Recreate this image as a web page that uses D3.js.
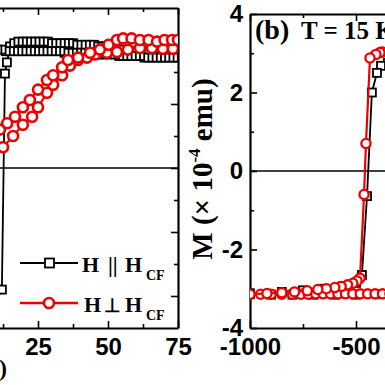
<!DOCTYPE html>
<html><head><meta charset="utf-8">
<script src="https://cdn.jsdelivr.net/npm/d3@7"></script>
<style>html,body{margin:0;padding:0;background:#fff;overflow:hidden}svg{display:block}</style>
</head><body>
<script>
// ---------- Panel (a) data : H (Oe) vs normalised M ----------
const aXMajor = [-75, -50, -25, 0, 25, 50, 75];
const aXMinor = [-62.5, -37.5, -12.5, 12.5, 37.5, 62.5];
const aYMajor = [-0.8, -0.4, 0, 0.4, 0.8];
const aYMinor = [-0.6, -0.2, 0.2, 0.6];

const aBlackAsc = [[-75,-0.69],[-60,-0.70],[-45,-0.71],[-30,-0.72],[-15,-0.73],[0,-0.74],[6,-0.75],[10,-0.76],[12.1,-0.76],[13.2,0.59],[13.9,0.66],[15,0.76],[16.5,0.78],[18,0.79],[19.5,0.79],[21,0.79],[22.5,0.79],[24,0.79],[25.5,0.79],[27,0.79],[28.5,0.79],[30,0.78],[31.5,0.78],[33,0.78],[34.5,0.78],[36,0.78],[37.5,0.78],[39,0.77],[40.5,0.77],[42,0.77],[43.5,0.77],[45,0.77],[46.5,0.76],[48,0.76],[49.5,0.76],[51,0.75],[52.5,0.75],[54,0.74],[55.5,0.74],[57,0.73],[58.5,0.73],[60,0.72],[61.5,0.72],[63,0.72],[64.5,0.71],[66,0.71],[67.5,0.71],[69,0.71],[70.5,0.71],[72,0.70],[73.5,0.70],[75,0.70]];
const aBlackDesc = [[75,0.69],[73.5,0.69],[72,0.69],[70.5,0.69],[69,0.69],[67.5,0.69],[66,0.69],[64.5,0.69],[63,0.69],[61.5,0.70],[60,0.70],[58.5,0.70],[57,0.70],[55.5,0.70],[54,0.70],[52.5,0.71],[51,0.71],[49.5,0.71],[48,0.71],[46.5,0.71],[45,0.71],[43.5,0.72],[42,0.72],[40.5,0.72],[39,0.72],[37.5,0.72],[36,0.72],[34.5,0.72],[33,0.73],[31.5,0.73],[30,0.73],[28.5,0.73],[27,0.73],[25.5,0.73],[24,0.73],[22.5,0.73],[21,0.73],[19.5,0.73],[18,0.73],[16.5,0.73],[15,0.73],[13.5,0.73],[12,0.74],[10.5,0.74],[9,0.74],[6,0.75],[0,0.76],[-10,0.77],[-13,0.5],[-14,-0.7],[-30,-0.75],[-75,-0.79]];
const aRedUp = [[0,0.05],[3,0.11],[6,0.16],[9,0.20],[11.4,0.24],[14,0.28],[16.8,0.32],[19.6,0.38],[22.1,0.425],[25,0.49],[28.2,0.55],[30.4,0.58],[33.6,0.63],[35.7,0.675],[39.3,0.69],[43.6,0.72],[47.1,0.74],[50.2,0.77],[53.2,0.80],[55.4,0.81],[58.4,0.81],[61.4,0.80],[64.5,0.80],[67.5,0.79],[70.2,0.80],[72.9,0.80],[75,0.80]];
const aRedLow = [[0,-0.06],[3,0.0],[6,0.04],[9,0.09],[12.5,0.13],[16.1,0.20],[19.6,0.27],[22.9,0.32],[25,0.38],[28.2,0.47],[30.4,0.52],[33.6,0.58],[36.4,0.64],[39.3,0.675],[42.5,0.69],[45.4,0.71],[49.6,0.72],[53.2,0.725],[57.1,0.74],[61.4,0.75],[65.7,0.75],[69.6,0.745],[73.2,0.745]];

// ---------- Panel (b) data : H (Oe) vs M (x10^-4 emu), T = 15 K ----------
const bXMajor = [-1000, -500, 0, 500, 1000];
const bXMinor = [-750, -250, 250, 750];
const bYMajor = [-4, -2, 0, 2, 4];
const bYMinor = [-3, -1, 1, 3];

const bBlackDesc = [[-300,2.80],[-350,2.76],[-382,2.68],[-401,2.50],[-425,2.00],[-448,-0.64],[-472,-2.65],[-500,-2.85],[-560,-2.93],[-650,-3.00],[-750,-3.04],[-850,-3.08],[-1000,-3.12]];
const bBlackAsc = [[-1000,-3.14],[-900,-3.15],[-800,-3.15],[-700,-3.15],[-600,-3.15],[-500,-3.15],[-400,-3.14],[-300,-3.14]];
const bRedDesc = [[-300,3.05],[-340,3.04],[-377,3.03],[-387,3.02],[-406,2.97],[-434,2.88],[-453,0.70],[-462,-0.60],[-481,-2.73],[-495,-2.80],[-515,-2.86],[-540,-2.90],[-570,-2.94],[-600,-2.97],[-640,-3.00],[-680,-3.02],[-730,-3.05],[-790,-3.08],[-850,-3.10],[-920,-3.12],[-1000,-3.14]];
const bRedAsc = [[-1000,-3.14],[-950,-3.14],[-900,-3.14],[-850,-3.14],[-800,-3.14],[-760,-3.14],[-725,-3.14],[-690,-3.13],[-655,-3.13],[-620,-3.13],[-585,-3.13],[-550,-3.13],[-515,-3.13],[-480,-3.13],[-445,-3.13],[-410,-3.13],[-375,-3.13],[-340,-3.13],[-305,-3.13]];

const legendLabels = [["H", "||", "H", "CF"], ["H", "\u22A5", "H", "CF"]];
const titleB = ["(b)", "T = 15 K"];
const xLabel = "H (Oe)";

// ---------- drawing ----------
const W = 385, H = 385;
const svg = d3.select("body").append("svg").attr("width", W).attr("height", H);
svg.append("rect").attr("width", W).attr("height", H).attr("fill", "#fff");
const RED = "#ec0000";
const SANS = "'Liberation Sans', Arial, sans-serif";
const SERIF = "'Liberation Serif', 'Times New Roman', serif";

const xA = d3.scaleLinear().domain([-75, 75]).range([-242, 178]);
const yA = d3.scaleLinear().domain([-1, 1]).range([328, 8]);
const xB = d3.scaleLinear().domain([-1000, 1000]).range([250, 674]);
const yB = d3.scaleLinear().domain([-4, 4]).range([328, 14]);

const defs = svg.append("defs");
defs.append("clipPath").attr("id", "clipA").append("rect")
  .attr("x", xA(-75)).attr("y", yA(1)).attr("width", xA(75) - xA(-75)).attr("height", yA(-1) - yA(1));
defs.append("clipPath").attr("id", "clipB").append("rect")
  .attr("x", xB(-1000)).attr("y", yB(4)).attr("width", xB(1000) - xB(-1000)).attr("height", yB(-4) - yB(4));

function styleAxis(g) {
  g.select(".domain").attr("stroke", "#000").attr("stroke-width", 2.2);
  g.selectAll(".tick line").attr("stroke", "#000").attr("stroke-width", 1.6);
  g.selectAll(".tick text").attr("fill", "#000").attr("font-family", SANS)
    .attr("font-weight", "bold").attr("font-size", 24);
}
function drawAxes(xs, ys, xMaj, xMin, yMaj, yMin, yLeftLabels) {
  const [x0, x1] = xs.range(); const [yb, yt] = ys.range();
  const fmt = d => String(d);
  const visible = v => xs(v) > -20;
  let g = svg.append("g").attr("transform", `translate(0,${yb})`)
    .call(d3.axisBottom(xs).tickValues(xMaj).tickSize(-7).tickSizeOuter(0).tickPadding(10)
      .tickFormat(d => visible(d) ? fmt(d) : ""));
  styleAxis(g);
  g = svg.append("g").attr("transform", `translate(0,${yb})`)
    .call(d3.axisBottom(xs).tickValues(xMin).tickSize(-4).tickSizeOuter(0).tickFormat(""));
  g.select(".domain").remove(); styleAxis(g);
  g = svg.append("g").attr("transform", `translate(0,${yt})`)
    .call(d3.axisTop(xs).tickValues(xMaj).tickSize(-7).tickSizeOuter(0).tickFormat(""));
  styleAxis(g);
  g = svg.append("g").attr("transform", `translate(0,${yt})`)
    .call(d3.axisTop(xs).tickValues(xMin).tickSize(-4).tickSizeOuter(0).tickFormat(""));
  g.select(".domain").remove(); styleAxis(g);
  g = svg.append("g").attr("transform", `translate(${x0},0)`)
    .call(d3.axisLeft(ys).tickValues(yMaj).tickSize(-7).tickSizeOuter(0).tickPadding(7).tickFormat(yLeftLabels ? fmt : ""));
  styleAxis(g);
  g = svg.append("g").attr("transform", `translate(${x0},0)`)
    .call(d3.axisLeft(ys).tickValues(yMin).tickSize(-4).tickSizeOuter(0).tickFormat(""));
  g.select(".domain").remove(); styleAxis(g);
  g = svg.append("g").attr("transform", `translate(${x1},0)`)
    .call(d3.axisRight(ys).tickValues(yMaj).tickSize(-7).tickSizeOuter(0).tickFormat(""));
  styleAxis(g);
  g = svg.append("g").attr("transform", `translate(${x1},0)`)
    .call(d3.axisRight(ys).tickValues(yMin).tickSize(-4).tickSizeOuter(0).tickFormat(""));
  g.select(".domain").remove(); styleAxis(g);
  svg.append("line").attr("x1", x0).attr("x2", x1).attr("y1", ys(0)).attr("y2", ys(0))
    .attr("stroke", "#000").attr("stroke-width", 1.5);
}

function drawSeries(layer, xs, ys, data, kind, opt) {
  const line = d3.line().x(d => xs(d[0])).y(d => ys(d[1]));
  layer.append("path").datum(data).attr("d", line).attr("fill", "none")
    .attr("stroke", kind === "sq" ? "#000" : RED).attr("stroke-width", kind === "sq" ? 1.8 : 2.2);
  if (kind === "sq") {
    const s = opt.size;
    layer.selectAll(null).data(data).enter().append("rect")
      .attr("x", d => xs(d[0]) - s / 2).attr("y", d => ys(d[1]) - s / 2)
      .attr("width", s).attr("height", s).attr("fill", "#fff").attr("stroke", "#000").attr("stroke-width", 1.8);
  } else {
    layer.selectAll(null).data(data).enter().append("circle")
      .attr("cx", d => xs(d[0])).attr("cy", d => ys(d[1])).attr("r", opt.r)
      .attr("fill", "#fff").attr("stroke", RED).attr("stroke-width", opt.sw);
  }
}

// panel a
drawAxes(xA, yA, aXMajor, aXMinor, aYMajor, aYMinor, false);
const layA = svg.append("g").attr("clip-path", "url(#clipA)");
drawSeries(layA, xA, yA, aBlackAsc, "sq", {size: 8});
drawSeries(layA, xA, yA, aBlackDesc, "sq", {size: 8});
drawSeries(layA, xA, yA, aRedLow, "ci", {r: 5, sw: 2.6});
drawSeries(layA, xA, yA, aRedUp, "ci", {r: 5, sw: 2.6});

// legend in panel a
const leg = svg.append("g");
[[263, "#000", "sq"], [303, RED, "ci"]].forEach(([y, c, k]) => {
  leg.append("line").attr("x1", 20).attr("x2", 78).attr("y1", y).attr("y2", y).attr("stroke", c).attr("stroke-width", k === "sq" ? 1.8 : 2.4);
  if (k === "sq") leg.append("rect").attr("x", 45).attr("y", y - 4.5).attr("width", 9).attr("height", 9).attr("fill", "#fff").attr("stroke", "#000").attr("stroke-width", 1.8);
  else leg.append("circle").attr("cx", 49).attr("cy", y).attr("r", 5).attr("fill", "#fff").attr("stroke", RED).attr("stroke-width", 2.6);
});
[[272, 82, 108, 22], [312, 84, 104, 19]].forEach(([base, xh, xs, fs], i) => {
  const lab = legendLabels[i];
  const t = leg.append("text").attr("font-family", SERIF).attr("font-weight", "bold").attr("font-size", 22).attr("fill", "#000");
  t.append("tspan").attr("x", xh).attr("y", base).text(lab[0]);
  t.append("tspan").attr("x", xs).attr("y", base).attr("font-size", fs).text(lab[1]);
  t.append("tspan").attr("x", 125).attr("y", base).text(lab[2]);
  t.append("tspan").attr("x", 146).attr("y", base + 8).attr("font-size", 14).text(lab[3]);
});
svg.append("text").attr("x", 7).attr("y", 376).attr("text-anchor", "end")
  .attr("font-family", SERIF).attr("font-weight", "bold").attr("font-size", 23).text(xLabel);

// panel b
drawAxes(xB, yB, bXMajor, bXMinor, bYMajor, bYMinor, true);
const layB = svg.append("g").attr("clip-path", "url(#clipB)");
drawSeries(layB, xB, yB, bBlackAsc, "sq", {size: 8});
drawSeries(layB, xB, yB, bBlackDesc, "sq", {size: 8});
drawSeries(layB, xB, yB, bRedAsc, "ci", {r: 4.6, sw: 2.3});
drawSeries(layB, xB, yB, bRedDesc, "ci", {r: 4.6, sw: 2.3});

svg.append("text").attr("x", 255).attr("y", 39).attr("font-family", SERIF).attr("font-weight", "bold")
  .attr("font-size", 28).text(titleB[0]);
svg.append("text").attr("x", 301).attr("y", 39).attr("font-family", SERIF).attr("font-weight", "bold")
  .attr("font-size", 25).text(titleB[1]);

const yl = svg.append("text").attr("transform", "translate(212,169) rotate(-90)").attr("text-anchor", "middle")
  .attr("font-family", SERIF).attr("font-weight", "bold").attr("font-size", 29).attr("fill", "#000");
yl.append("tspan").text("M (\u00D7 10");
yl.append("tspan").attr("font-size", 17).attr("dy", -12).text("-4");
yl.append("tspan").attr("dy", 12).text(" emu)");
</script>
</body></html>
